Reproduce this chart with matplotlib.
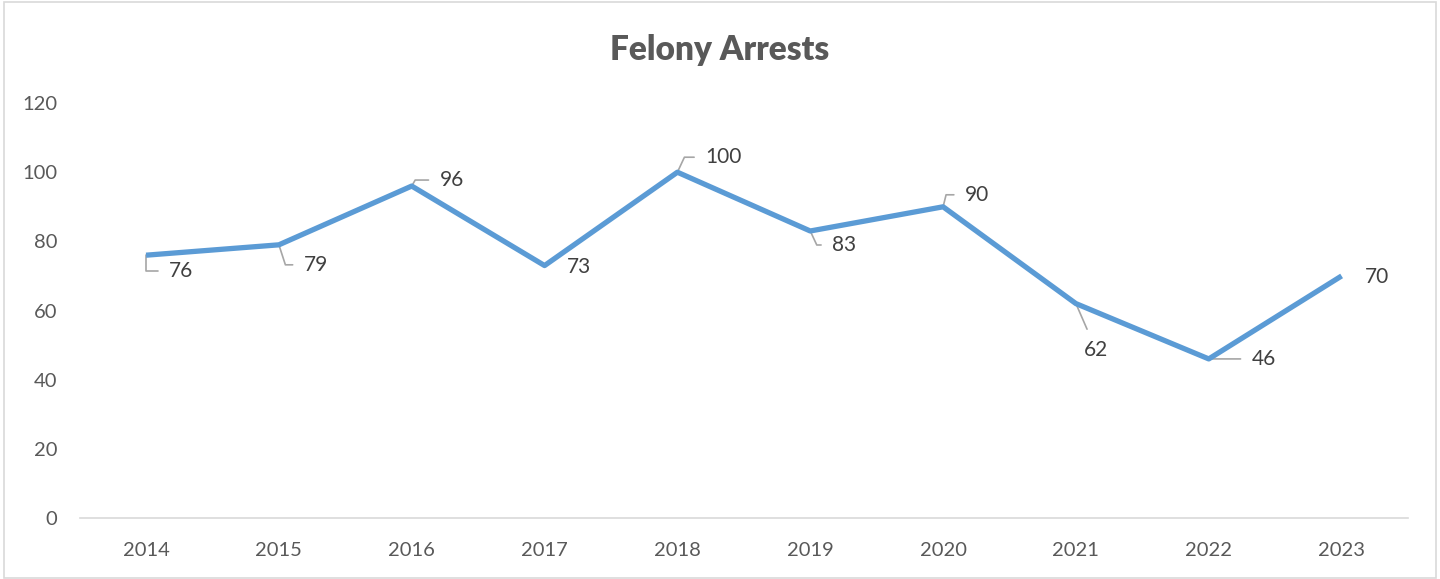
import numpy as np
import matplotlib.pyplot as plt
from matplotlib.patches import Rectangle

plt.rcParams['font.family'] = ['Lato', 'DejaVu Sans']

# yearly felony arrest counts
years = ['2014', '2015', '2016', '2017', '2018', '2019', '2020', '2021', '2022', '2023']
arrests = [76, 79, 96, 73, 100, 83, 90, 62, 46, 70]
yticks = [0, 20, 40, 60, 80, 100, 120]

# label offsets (pixels) and leader-line angle at the point (None = straight / no leader)
label_offsets = [(35, -16), (37, -20), (40, 6), (34, -1), (46, 15),
                 (34, -14), (34, 12), (20, -46), (55, 0), (35, -1)]
leader_angles = [90, -72, 60, None, 65, -65, 76, 'straight', 'straight', None]

line_color = '#5B9BD5'
text_grey = '#595959'

fig = plt.figure(figsize=(14.4, 5.79), dpi=100)
ax = fig.add_axes([0.0553, 0.1054, 0.9225, 0.7166])

x = np.arange(len(years))
ax.plot(x, arrests, color=line_color, lw=3.8, zorder=4, solid_capstyle='butt')

for i, v in enumerate(arrests):
    dx, dy = label_offsets[i]
    ang = leader_angles[i]
    props = None
    if ang == 'straight':
        props = dict(arrowstyle='-', color='#A6A6A6', lw=1.2, shrinkA=6, shrinkB=0,
                     connectionstyle='arc3,rad=0')
    elif ang is not None:
        props = dict(arrowstyle='-', color='#A6A6A6', lw=1.2, shrinkA=6, shrinkB=0,
                     connectionstyle=f'angle,angleA=0,angleB={ang},rad=0')
    ax.annotate(str(v), xy=(i, v), xytext=(dx, dy), textcoords='offset pixels',
                ha='center', va='center', fontsize=15, color='#404040',
                arrowprops=props, zorder=3)

ax.set_xlim(-0.5, len(years) - 0.5)
ax.set_ylim(0, 120)
ax.set_xticks(x)
ax.set_xticklabels(years)
ax.set_yticks(yticks)
ax.tick_params(axis='both', length=0, labelsize=14.5, colors=text_grey)
ax.tick_params(axis='x', pad=17)
ax.tick_params(axis='y', pad=16)

for side in ['top', 'left', 'right']:
    ax.spines[side].set_visible(False)
ax.spines['bottom'].set_color('#D9D9D9')
ax.spines['bottom'].set_linewidth(1.2)
ax.set_facecolor('none')

fig.text(0.5, 0.914, 'Felony Arrests', ha='center', va='center',
         fontsize=24, fontweight='heavy', color=text_grey)

# chart area border
fig.patches.append(Rectangle((0.003, 0.002), 0.994, 0.995, transform=fig.transFigure,
                             fill=False, edgecolor='#D9D9D9', lw=1.2))

fig.savefig('out.png', dpi=100)
